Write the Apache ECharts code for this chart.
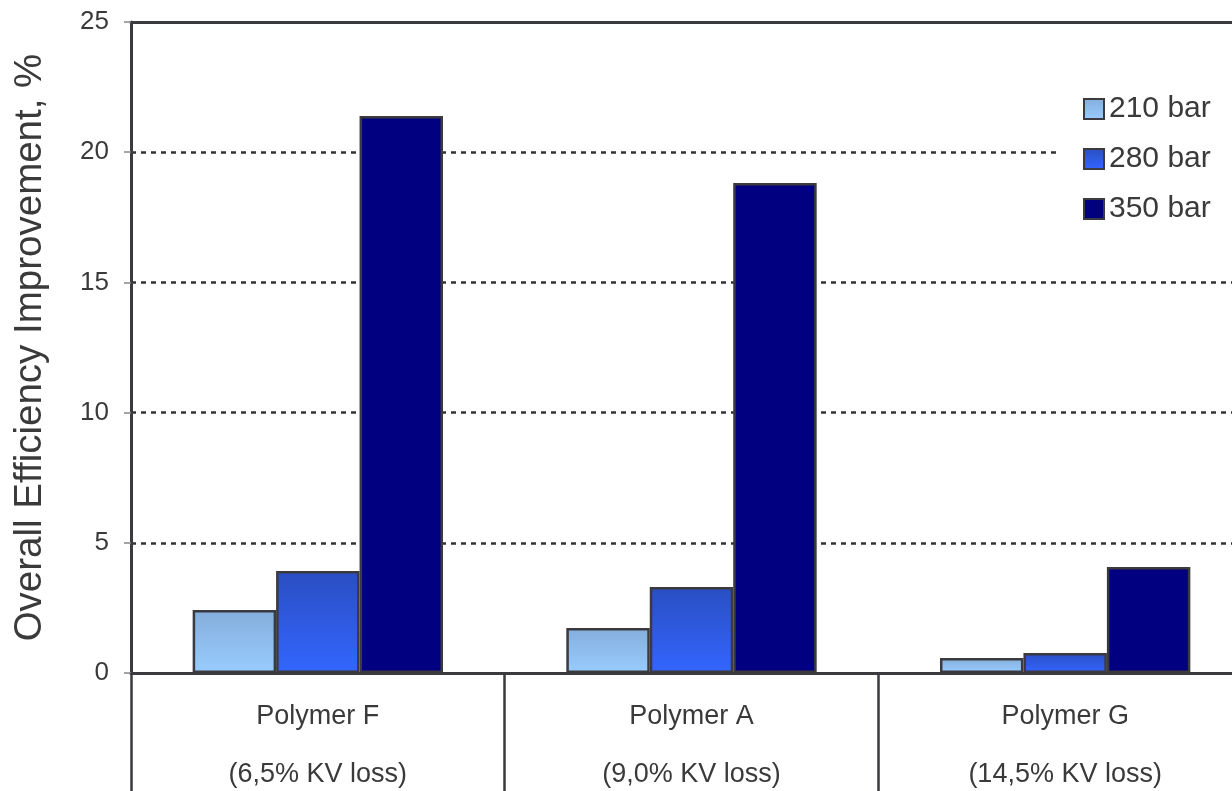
<!DOCTYPE html>
<html>
<head>
<meta charset="utf-8">
<script src="https://cdn.jsdelivr.net/npm/echarts@6/dist/echarts.min.js"></script>
<style>
  html, body { margin: 0; padding: 0; background: #fff; }
  #chart { width: 1232px; height: 791px; }
</style>
</head>
<body>
<div id="chart"></div>
<script>
// Polymers tested and their KV loss
const categories = ['Polymer F', 'Polymer A', 'Polymer G'];
const kvLoss = ['(6,5% KV loss)', '(9,0% KV loss)', '(14,5% KV loss)'];

// Overall efficiency improvement, % per pressure level
const seriesNames = ['210 bar', '280 bar', '350 bar'];
const bar210 = [2.42, 1.73, 0.58];
const bar280 = [3.92, 3.30, 0.77];
const bar350 = [21.39, 18.82, 4.07];

const yTicks = { min: 0, max: 25, interval: 5 };

const edge = '#3a3a3f';
const textColor = '#3a3a3a';
const font = '"Liberation Sans", Arial, Helvetica, sans-serif';

function vGrad(top, bottom) {
  return new echarts.graphic.LinearGradient(0, 0, 0, 1, [
    { offset: 0, color: top },
    { offset: 1, color: bottom }
  ]);
}

const fills = [
  vGrad('#84aedb', '#99ccff'),
  vGrad('#2a4ec2', '#3366ff'),
  '#000080'
];

const values = [bar210, bar280, bar350];

const chart = echarts.init(document.getElementById('chart'), null, { renderer: 'canvas' });

chart.setOption({
  animation: false,
  backgroundColor: '#ffffff',
  textStyle: { fontFamily: font, color: textColor },
  grid: { left: 131, top: 22, right: -20, bottom: 118, containLabel: false, outerBoundsMode: 'none' },
  legend: {
    orient: 'vertical',
    left: 1058,
    top: 84,
    padding: [10, 60, 10, 25],
    backgroundColor: '#ffffff',
    itemWidth: 20,
    itemHeight: 20,
    itemGap: 20,
    icon: 'rect',
    data: seriesNames,
    textStyle: { fontSize: 30, lineHeight: 28, color: textColor, fontFamily: font, padding: [0, 0, 0, 0] }
  },
  xAxis: [
    {
      type: 'category',
      data: categories,
      position: 'bottom',
      axisLine: { show: true, lineStyle: { color: edge, width: 3 } },
      axisTick: { show: true, length: 120, interval: 0, lineStyle: { color: edge, width: 2.5 } },
      axisLabel: {
        interval: 0,
        margin: 15,
        fontSize: 27,
        lineHeight: 58,
        color: textColor,
        fontFamily: font,
        formatter: (v, i) => v + '\n' + kvLoss[i]
      },
      splitLine: { show: false }
    },
    {
      type: 'category',
      data: categories,
      position: 'top',
      axisLine: { show: true, lineStyle: { color: edge, width: 3 } },
      axisTick: { show: false },
      axisLabel: { show: false },
      splitLine: { show: false }
    }
  ],
  yAxis: {
    type: 'value',
    min: yTicks.min,
    max: yTicks.max,
    interval: yTicks.interval,
    name: 'Overall Efficiency Improvement, %',
    nameLocation: 'middle',
    nameRotate: 90,
    nameGap: 81,
    nameTextStyle: { fontSize: 38.5, color: textColor, fontFamily: font },
    axisLine: { show: true, lineStyle: { color: edge, width: 3 } },
    axisTick: { show: true, length: 7, lineStyle: { color: '#888', width: 1.5 } },
    axisLabel: { fontSize: 26, color: textColor, margin: 22, fontFamily: font },
    splitLine: { show: true, lineStyle: { color: '#333', width: 2.5, type: [5, 5] } }
  },
  series: seriesNames.map((name, k) => ({
    name: name,
    type: 'bar',
    xAxisIndex: 0,
    data: values[k],
    barGap: '0%',
    barCategoryGap: '33%',
    itemStyle: { color: fills[k], borderColor: edge, borderWidth: 2.5 }
  }))
});
</script>
</body>
</html>
